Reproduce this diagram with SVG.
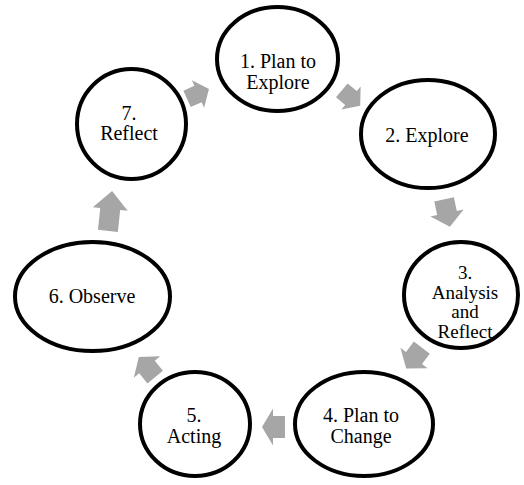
<svg xmlns="http://www.w3.org/2000/svg" width="524" height="485" viewBox="0 0 524 485">
  <style>
    .node ellipse { fill: #ffffff; stroke: #000000; stroke-width: 4; }
    text { font-family: Liberation Serif, Tinos, Times New Roman, DejaVu Serif, serif; font-size: 20px; fill: #000000; text-anchor: middle; }
    .arrow { fill: #a6a6a6; stroke: none; }
  </style>
  <rect width="524" height="485" fill="#ffffff"/>

  <!-- block arrows between the steps of the cycle -->
  <g id="connectors">
    <polygon class="arrow" transform="translate(351,98) rotate(40)" points="-12,-9 0,-9 0,-15 12,0 0,15 0,9 -12,9"/>
    <polygon class="arrow" transform="translate(447,213) rotate(78)" points="-14,-10 0,-10 0,-17 14,0 0,17 0,10 -14,10"/>
    <polygon class="arrow" transform="translate(414,358) rotate(127)" points="-13,-10 0,-10 0,-17 13,0 0,17 0,10 -13,10"/>
    <polygon class="arrow" transform="translate(273.5,427) rotate(180)" points="-11.5,-11 0.5,-11 0.5,-18.5 11.5,0 0.5,18.5 0.5,11 -11.5,11"/>
    <polygon class="arrow" transform="translate(147,367) rotate(231)" points="-13,-10 0,-10 0,-17 13,0 0,17 0,10 -13,10"/>
    <polygon class="arrow" transform="translate(110,211) rotate(-84)" points="-20,-10 2,-10 2,-17.5 20,0 2,17.5 2,10 -20,10"/>
    <polygon class="arrow" transform="translate(198,94) rotate(-24)" points="-12,-9 0,-9 0,-15 12,0 0,15 0,9 -12,9"/>
  </g>

  <g id="step1" class="node">
    <ellipse cx="277.5" cy="59" rx="60.5" ry="52"/>
    <text x="278" y="68">1. Plan to</text>
    <text x="278" y="89">Explore</text>
  </g>
  <g id="step2" class="node">
    <ellipse cx="428" cy="134" rx="67" ry="54"/>
    <text x="427" y="142">2. Explore</text>
  </g>
  <g id="step3" class="node">
    <ellipse cx="461" cy="295" rx="57" ry="53"/>
    <text x="465" y="279" style="font-size:19px">3.</text>
    <text x="465" y="298.5" style="font-size:19px">Analysis</text>
    <text x="465" y="318" style="font-size:19px">and</text>
    <text x="465" y="337.5" style="font-size:19px">Reflect</text>
  </g>
  <g id="step4" class="node">
    <ellipse cx="364" cy="424" rx="69" ry="52"/>
    <text x="361" y="422">4. Plan to</text>
    <text x="361" y="443">Change</text>
  </g>
  <g id="step5" class="node">
    <ellipse cx="195" cy="424" rx="55" ry="52"/>
    <text x="194" y="422">5.</text>
    <text x="194" y="443">Acting</text>
  </g>
  <g id="step6" class="node">
    <ellipse cx="92.5" cy="296.5" rx="77.5" ry="54.5"/>
    <text x="92" y="303">6. Observe</text>
  </g>
  <g id="step7" class="node">
    <ellipse cx="131.5" cy="124" rx="54.5" ry="55"/>
    <text x="129" y="120">7.</text>
    <text x="129" y="140">Reflect</text>
  </g>
</svg>
